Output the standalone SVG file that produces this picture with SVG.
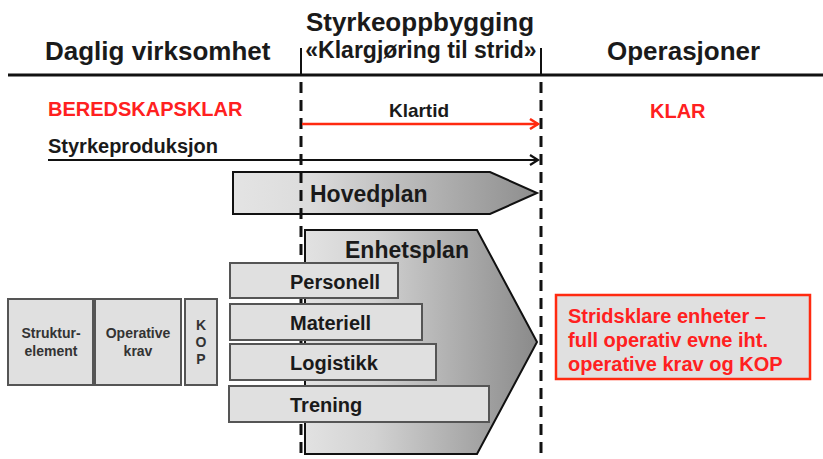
<svg xmlns="http://www.w3.org/2000/svg" width="823" height="459" viewBox="0 0 823 459">
<defs>
<style>
text{font-family:"Liberation Sans",Arial,sans-serif;font-weight:bold;fill:#1a1a1a}
.red{fill:#ff2020}
.box{fill:#e0e0e0;stroke:#555;stroke-width:2}
.sm{font-size:14px;fill:#333;text-anchor:middle}
.lbl{font-size:20px}
.dash{stroke:#111;stroke-width:3;stroke-dasharray:11 7;fill:none}
</style>
<linearGradient id="gH" x1="0" y1="0" x2="1" y2="0">
<stop offset="0" stop-color="#e4e4e4"/>
<stop offset="0.25" stop-color="#dcdcdc"/>
<stop offset="1" stop-color="#8e8e8e"/>
</linearGradient>
<linearGradient id="gE" x1="0" y1="0" x2="1" y2="0">
<stop offset="0" stop-color="#e2e2e2"/>
<stop offset="0.3" stop-color="#d2d2d2"/>
<stop offset="1" stop-color="#8a8a8a"/>
</linearGradient>
<marker id="ar" markerWidth="12" markerHeight="12" refX="10" refY="6" orient="auto" markerUnits="userSpaceOnUse">
<path d="M2,1 L10,6 L2,11" fill="none" stroke="#ff2a10" stroke-width="2.5"/>
</marker>
<marker id="ak" markerWidth="12" markerHeight="12" refX="10" refY="6" orient="auto" markerUnits="userSpaceOnUse">
<path d="M2,1 L10,6 L2,11" fill="none" stroke="#111" stroke-width="2.2"/>
</marker>
</defs>

<g id="headers">
<text x="420" y="31" font-size="26" text-anchor="middle">Styrkeoppbygging</text>
<text x="45" y="60" font-size="26">Daglig virksomhet</text>
<text x="421" y="58" font-size="23" text-anchor="middle">«Klargjøring til strid»</text>
<text x="607" y="60" font-size="26">Operasjoner</text>
</g>

<g id="status">
<text x="48" y="116" font-size="20" class="red">BEREDSKAPSKLAR</text>
<text x="419" y="117" font-size="19" text-anchor="middle">Klartid</text>
<text x="650" y="118" font-size="20" class="red">KLAR</text>
<text x="48" y="153" font-size="20">Styrkeproduksjon</text>
</g>

<g id="hovedplan">
<polygon points="233,172 490,172 537,193 490,214 233,214" fill="url(#gH)" stroke="#111" stroke-width="2"/>
<text x="310" y="202" font-size="23">Hovedplan</text>
</g>

<g id="enhetsplan">
<polygon points="305,230 477,230 537,342 477,454 305,454" fill="url(#gE)" stroke="#111" stroke-width="2"/>
<text x="345" y="258" font-size="23">Enhetsplan</text>
</g>

<g id="connectors">
<line x1="8" y1="75" x2="823" y2="75" stroke="#111" stroke-width="3"/>
<line x1="301" y1="48" x2="301" y2="75" stroke="#111" stroke-width="2"/>
<line x1="541" y1="48" x2="541" y2="75" stroke="#111" stroke-width="2"/>
<line x1="301" y1="82" x2="301" y2="459" class="dash"/>
<line x1="541" y1="82" x2="541" y2="459" class="dash"/>
<line x1="302" y1="124" x2="538" y2="124" stroke="#ff2a10" stroke-width="2.5" marker-end="url(#ar)"/>
<line x1="48" y1="160" x2="538" y2="160" stroke="#111" stroke-width="2" marker-end="url(#ak)"/>
</g>

<g id="personell">
<rect x="230" y="263" width="168" height="35" class="box"/>
<text x="290" y="289" class="lbl">Personell</text>
</g>
<g id="materiell">
<rect x="230" y="304" width="192" height="36" class="box"/>
<text x="290" y="330" class="lbl">Materiell</text>
</g>
<g id="logistikk">
<rect x="230" y="344" width="206" height="36" class="box"/>
<text x="290" y="370" class="lbl">Logistikk</text>
</g>
<g id="trening">
<rect x="229" y="386" width="260" height="36" class="box"/>
<text x="290" y="412" class="lbl">Trening</text>
</g>

<g id="strukturelement">
<rect x="8" y="299" width="85" height="86" class="box"/>
<text x="51" y="338" class="sm">Struktur-</text>
<text x="51" y="356" class="sm">element</text>
</g>
<g id="operativekrav">
<rect x="95" y="299" width="86" height="86" class="box"/>
<text x="138" y="338" class="sm">Operative</text>
<text x="138" y="356" class="sm">krav</text>
</g>
<g id="kop">
<rect x="185" y="299" width="32" height="86" class="box"/>
<text x="201" y="330" class="sm">K</text>
<text x="201" y="347" class="sm">O</text>
<text x="201" y="364" class="sm">P</text>
</g>

<g id="stridsklare">
<rect x="556" y="295" width="254" height="84" fill="#e0e0e0" stroke="#ff2a10" stroke-width="2.5"/>
<text x="568" y="323" font-size="20" class="red">Stridsklare enheter –</text>
<text x="568" y="347" font-size="20" class="red">full operativ evne iht.</text>
<text x="568" y="371" font-size="20" class="red">operative krav og KOP</text>
</g>
</svg>
